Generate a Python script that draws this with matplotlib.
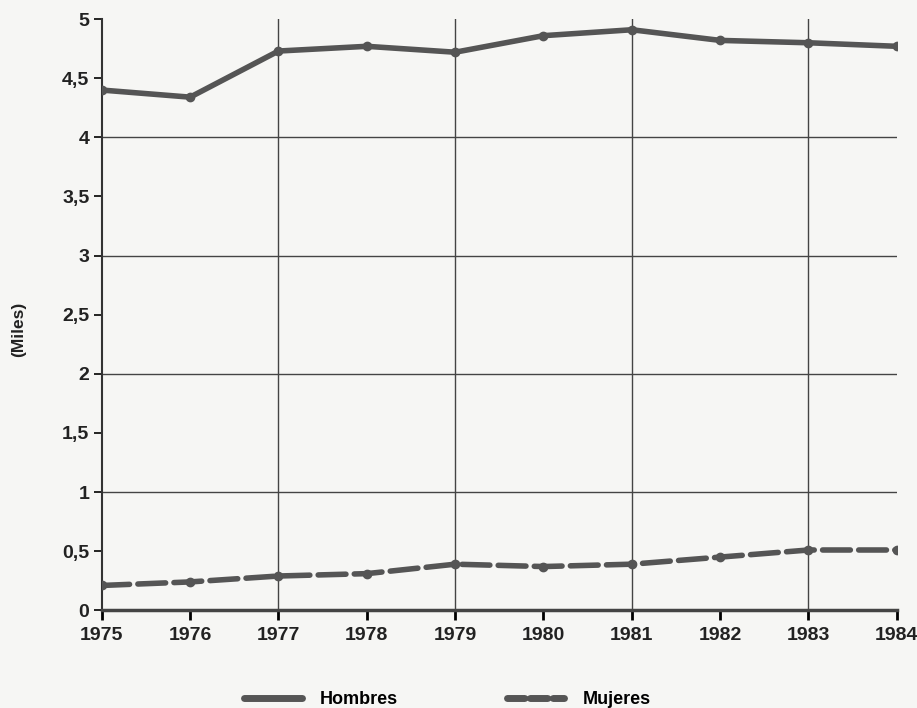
import matplotlib
matplotlib.use("Agg")
import matplotlib.pyplot as plt
from matplotlib.lines import Line2D

years = [1975, 1976, 1977, 1978, 1979, 1980, 1981, 1982, 1983, 1984]
hombres = [4.40, 4.34, 4.73, 4.77, 4.72, 4.86, 4.91, 4.82, 4.80, 4.77]
mujeres = [0.21, 0.24, 0.29, 0.31, 0.39, 0.37, 0.39, 0.45, 0.51, 0.51]
yticks = [0, 0.5, 1, 1.5, 2, 2.5, 3, 3.5, 4, 4.5, 5]
ytick_labels = ["0", "0,5", "1", "1,5", "2", "2,5", "3", "3,5", "4", "4,5", "5"]
series_labels = ["Hombres", "Mujeres"]
ylabel = "(Miles)"

plt.rcParams['font.family'] = ['Liberation Sans', 'DejaVu Sans']
bg = '#f6f6f4'
line_col = '#555555'

fig = plt.figure(figsize=(9.17, 7.08), dpi=100, facecolor=bg)
ax = fig.add_axes([0.111, 0.138, 0.867, 0.835], facecolor=bg)

# grid
for x in [1977, 1979, 1981, 1983]:
    ax.axvline(x, color='#444444', lw=1.0, zorder=1)
for y in [1, 2, 3, 4]:
    ax.axhline(y, color='#444444', lw=1.0, zorder=1)

ax.plot(years, hombres, color=line_col, lw=4, marker='o', ms=6,
        solid_capstyle='round', zorder=3)
ax.plot(years, mujeres, color=line_col, lw=4, marker='o', ms=6,
        dashes=(5, 1.5), dash_capstyle='round', zorder=3)

ax.set_xlim(1975, 1984)
ax.set_ylim(0, 5)
ax.set_xticks(years)
ax.set_xticklabels([str(y) for y in years], fontsize=14, fontweight='bold', color='#222222')
ax.set_yticks(yticks)
ax.set_yticklabels(ytick_labels, fontsize=14, fontweight='bold', color='#222222')
ax.tick_params(axis='y', length=6, width=1.2, pad=3, direction='out')
ax.tick_params(axis='x', length=7, width=2, pad=5, direction='out')
for s in ['top', 'right']:
    ax.spines[s].set_visible(False)
ax.spines['left'].set_linewidth(1.5)
ax.spines['bottom'].set_linewidth(2.5)
ax.spines['left'].set_color('#333333')
ax.spines['bottom'].set_color('#444444')

fig.text(0.02, 0.535, ylabel, rotation=90, ha='center', va='center',
         fontsize=12.5, fontweight='bold', color='#222222')

handles = [Line2D([0], [0], color=line_col, lw=5, solid_capstyle='round'),
           Line2D([0], [0], color=line_col, lw=5, dashes=(2.5, 0.8), dash_capstyle='round')]
fig.legend(handles, series_labels, loc='center', bbox_to_anchor=(0.488, 0.012),
           ncol=2, frameon=False, columnspacing=6, handlelength=3.2, handletextpad=1.0,
           prop={'size': 13, 'weight': 'bold'})

fig.savefig('out.png', dpi=100, facecolor=bg)
